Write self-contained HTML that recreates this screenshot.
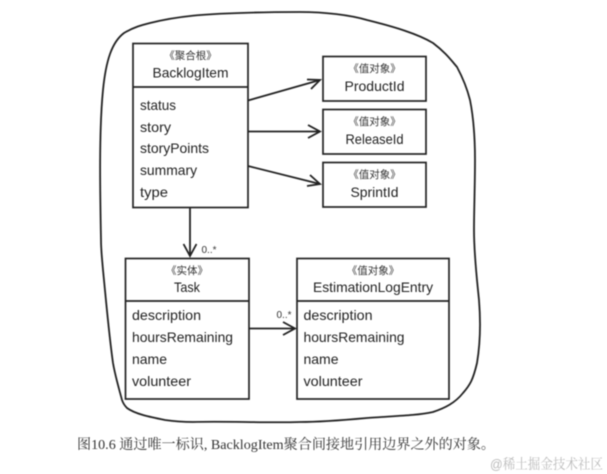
<!DOCTYPE html>
<html><head><meta charset="utf-8">
<style>
html,body{margin:0;padding:0;background:#fff;width:607px;height:474px;overflow:hidden}
svg{display:block;filter:blur(0.4px)}
text{font-family:"Liberation Sans","Noto Sans CJK SC",sans-serif;fill:#222;font-size:14px}
.t{font-size:14px;text-anchor:middle}
.s{font-size:10.5px;text-anchor:middle;fill:#333}
.c{font-family:"Liberation Serif","Noto Serif CJK SC",serif;font-size:14px;fill:#333}
.w{font-family:"Liberation Sans","Noto Serif CJK SC",serif;font-size:14px;fill:#bbb}
.m{font-size:10px;fill:#333}
rect,path.l{fill:none;stroke:#222;stroke-width:1.7}
path.a{fill:none;stroke:#222;stroke-width:1.8}
</style></head><body>
<svg width="607" height="474" viewBox="0 0 607 474" xmlns="http://www.w3.org/2000/svg">
<path class="a" d="M101 240 C100 190 99 130 103 90 C106 60 112 42 124 33 C134 27 142 25 150 23 C178 16 205 14 240 13 C265 12 285 12 300 12 C325 12 350 15 367 20 C395 27 418 34 433 43 C445 52 451 60 457 67 C465 82 468 92 470 100 C474 120 475 140 475 160 C475 185 474 210 474 230 C474 255 477 280 479 300 C481 325 480 345 477 363 C473 380 470 385 463 393 C455 403 445 408 433 412 C415 416 390 416 367 418 C345 420 320 422 300 422 C265 423 225 421 193 422 C180 422 172 421 165 420 C150 417 135 414 127 408 C124 405 123 403 122 400 C118 385 115 375 113 363 C109 335 106 300 103 270 C102 258 101 250 101 240 Z"/>

<!-- BacklogItem -->
<rect x="133" y="43.500" width="115" height="164"/>
<path class="l" d="M133 87H248"/>
<text class="s" x="190.500" y="59">《聚合根》</text>
<text class="t" x="190.500" y="77.500" textLength="76" lengthAdjust="spacingAndGlyphs">BacklogItem</text>
<text x="140" y="110" textLength="36" lengthAdjust="spacingAndGlyphs">status</text>
<text x="140" y="132" textLength="31" lengthAdjust="spacingAndGlyphs">story</text>
<text x="140" y="153" textLength="69" lengthAdjust="spacingAndGlyphs">storyPoints</text>
<text x="140" y="175" textLength="57" lengthAdjust="spacingAndGlyphs">summary</text>
<text x="140" y="197" textLength="28" lengthAdjust="spacingAndGlyphs">type</text>

<!-- Value objects -->
<rect x="323" y="56.500" width="103" height="44.500"/>
<text class="s" x="374.500" y="72">《值对象》</text>
<text class="t" x="374.500" y="91" textLength="60" lengthAdjust="spacingAndGlyphs">ProductId</text>
<rect x="323" y="109.500" width="103" height="44.500"/>
<text class="s" x="374.500" y="125">《值对象》</text>
<text class="t" x="374.500" y="144" textLength="58" lengthAdjust="spacingAndGlyphs">ReleaseId</text>
<rect x="323" y="162.500" width="103" height="44.500"/>
<text class="s" x="374.500" y="178">《值对象》</text>
<text class="t" x="374.500" y="197" textLength="48" lengthAdjust="spacingAndGlyphs">SprintId</text>

<!-- Task -->
<rect x="125.500" y="258.500" width="123.500" height="140.500"/>
<path class="l" d="M125.500 301H249"/>
<text class="s" x="187" y="274">《实体》</text>
<text class="t" x="187" y="292" textLength="26" lengthAdjust="spacingAndGlyphs">Task</text>
<text x="132" y="320" textLength="69" lengthAdjust="spacingAndGlyphs">description</text>
<text x="132" y="342" textLength="101" lengthAdjust="spacingAndGlyphs">hoursRemaining</text>
<text x="132" y="364" textLength="35" lengthAdjust="spacingAndGlyphs">name</text>
<text x="132" y="386" textLength="59" lengthAdjust="spacingAndGlyphs">volunteer</text>

<!-- EstimationLogEntry -->
<rect x="297" y="258.500" width="152" height="140.500"/>
<path class="l" d="M297 301H449"/>
<text class="s" x="373" y="274">《值对象》</text>
<text class="t" x="373" y="292" textLength="120" lengthAdjust="spacingAndGlyphs">EstimationLogEntry</text>
<text x="303.500" y="320" textLength="69" lengthAdjust="spacingAndGlyphs">description</text>
<text x="303.500" y="342" textLength="101" lengthAdjust="spacingAndGlyphs">hoursRemaining</text>
<text x="303.500" y="364" textLength="35" lengthAdjust="spacingAndGlyphs">name</text>
<text x="303.500" y="386" textLength="59" lengthAdjust="spacingAndGlyphs">volunteer</text>

<!-- Connectors -->
<path class="a" d="M248 100.500L320 80M307 79.500L320 80L311 89"/>
<path class="a" d="M248 131.500H320M308 125L320 131.500L308 138"/>
<path class="a" d="M248 166L320 184M310 175L320 184L307 186"/>
<path class="a" d="M190 207.500V256M183.500 244L190 256L196.500 244"/>
<path class="a" d="M249 328.500H295M283 322L295 328.500L283 335"/>
<text class="m" x="201.500" y="253">0..*</text>
<text class="m" x="276.500" y="318">0..*</text>

<!-- Caption -->
<text class="c" x="77" y="449" textLength="418" lengthAdjust="spacingAndGlyphs">图10.6 通过唯一标识, BacklogItem聚合间接地引用边界之外的对象。</text>
<text class="w" x="490" y="469" textLength="113" lengthAdjust="spacingAndGlyphs">@稀土掘金技术社区</text>
</svg>
</body></html>
